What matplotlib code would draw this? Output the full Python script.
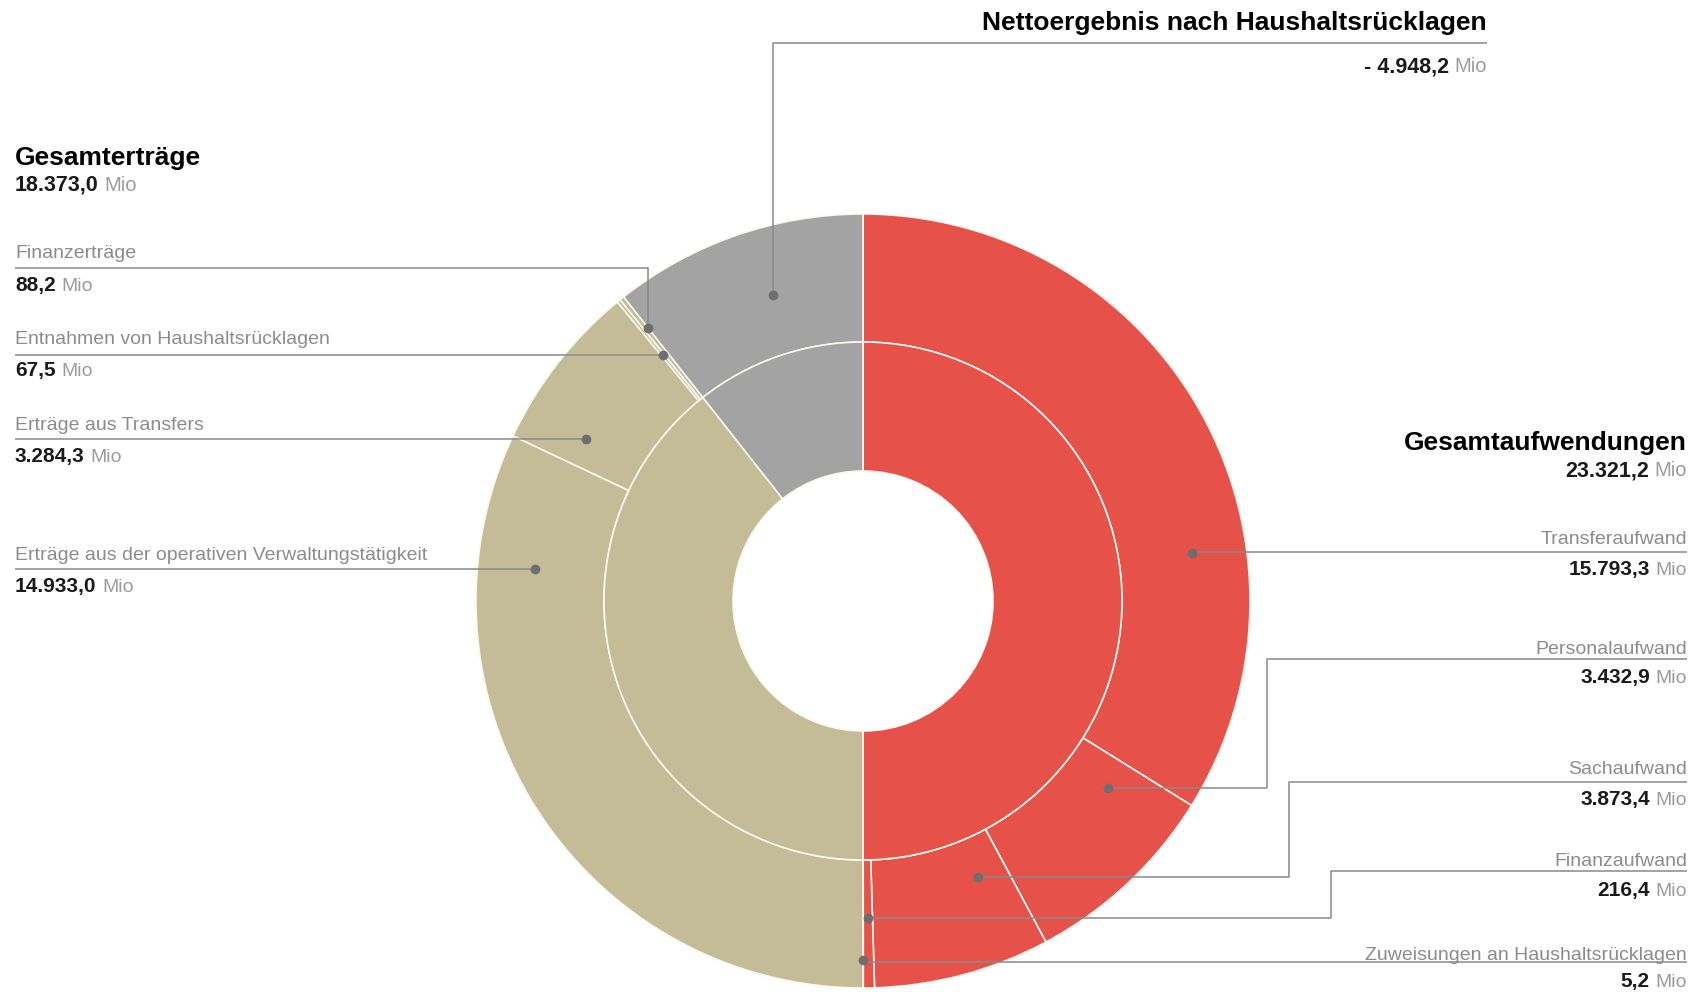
import matplotlib.pyplot as plt
import numpy as np

plt.rcParams['font.family'] = ['Liberation Sans', 'DejaVu Sans']

W, H = 1698, 992

# Aufwendungen (rechts)
aufw_names = ["Transferaufwand", "Personalaufwand", "Sachaufwand",
              "Finanzaufwand", "Zuweisungen an Haushaltsrücklagen"]
aufw_values = [15793.3, 3432.9, 3873.4, 216.4, 5.2]
aufw_total = 23321.2
aufw_ring_order = [0, 2, 1, 3, 4]   # order of the wedges as drawn in the original

# Erträge (links)
ertr_names = ["Erträge aus der operativen Verwaltungstätigkeit", "Erträge aus Transfers",
              "Entnahmen von Haushaltsrücklagen", "Finanzerträge"]
ertr_values = [14933.0, 3284.3, 67.5, 88.2]
ertr_total = 18373.0

netto_name = "Nettoergebnis nach Haushaltsrücklagen"
netto_value = -4948.2

RED, BEIGE, GREY = "#E6514A", "#C4BC97", "#A3A3A3"
LINE, DOT = "#8A8A8A", "#6E6E6E"
NAME_C, MIO_C = "#8C8C8C", "#9C9C9C"

cx, cy = 863, 601          # pixel position of the centre
r_out, r_mid, r_in = 387, 259, 130


def Y(yp):
    return H - yp


def fmt(v):
    s = f"{abs(v):,.1f}".replace(",", "X").replace(".", ",").replace("X", ".")
    return ("- " if v < 0 else "") + s


fig = plt.figure(figsize=(W / 100, H / 100), dpi=100)
ax = fig.add_axes([0, 0, 1, 1])

inner = [aufw_total, ertr_total, abs(netto_value)]
outer = [aufw_values[i] for i in aufw_ring_order] + ertr_values + [abs(netto_value)]
outer_colors = [RED] * 5 + [BEIGE] * 4 + [GREY]

wp = dict(edgecolor="#FBF8F0", linewidth=1.2)
ax.pie(outer, radius=r_out, center=(cx, Y(cy)), startangle=90, counterclock=False,
       colors=outer_colors, wedgeprops=dict(width=r_out - r_mid, **wp))
ax.pie(inner, radius=r_mid, center=(cx, Y(cy)), startangle=90, counterclock=False,
       colors=[RED, BEIGE, GREY], wedgeprops=dict(width=r_mid - r_in, **wp))

ax.set_xlim(0, W)
ax.set_ylim(0, H)
ax.set_aspect("equal")
ax.axis("off")

# anchor dots inside the outer ring
cum = np.cumsum([0] + outer) / sum(outer) * 360
dot_frac = [0.67, 0.18, 0.21, 0.47, 0.5, 0.829, 0.198, 0.5, 0.9, 0.57]
dot_r = [333, 308, 299, 317, 359, 330, 321, 317, 348, 319]


def dot_xy(k):
    a = np.radians(cum[k] + dot_frac[k] * (cum[k + 1] - cum[k]))
    return cx + dot_r[k] * np.sin(a), cy - dot_r[k] * np.cos(a)


def leader(pts, dot):
    xs = [p[0] for p in pts]
    ys = [Y(p[1]) for p in pts]
    ax.plot(xs, ys, color=LINE, lw=1.1, zorder=5, solid_capstyle="butt")
    ax.plot(dot[0], Y(dot[1]), "o", color=DOT, ms=6, zorder=6)


def value(x, yc, v, ha, size=15, mio_size=14):
    yb = Y(yc + 7)
    if ha == "left":
        t = ax.text(x, yb, fmt(v), ha="left", va="baseline", fontsize=size,
                    fontweight="bold", color="#1A1A1A")
        ax.annotate("Mio", xy=(1, yb), xycoords=(t, "data"), xytext=(4, 0),
                    textcoords="offset points", ha="left", va="baseline",
                    fontsize=mio_size, color=MIO_C)
    else:
        m = ax.text(x, yb, "Mio", ha="right", va="baseline", fontsize=mio_size, color=MIO_C)
        ax.annotate(fmt(v), xy=(0, yb), xycoords=(m, "data"), xytext=(-4, 0),
                    textcoords="offset points", ha="right", va="baseline",
                    fontsize=size, fontweight="bold", color="#1A1A1A")


# headings
ax.text(15, Y(158), "Gesamterträge", ha="left", va="center", fontsize=19, fontweight="bold")
value(15, 184, ertr_total, "left", 15.5, 14.5)
ax.text(1687, Y(443), "Gesamtaufwendungen", ha="right", va="center", fontsize=19, fontweight="bold")
value(1687, 469, aufw_total, "right", 15.5, 14.5)
ax.text(1487, Y(23), netto_name, ha="right", va="center", fontsize=19, fontweight="bold")
value(1487, 65, netto_value, "right", 15.5, 14.5)
dx, dy = dot_xy(9)
leader([(1487, 43), (dx, 43), (dx, dy)], (dx, dy))

# left labels, top to bottom
left_order = [3, 2, 1, 0]
left_name_y = [254, 340, 425, 555]
left_line_y = [268, 355, 439, 569]
left_val_y = [284, 369, 455, 585]
for j, i in enumerate(left_order):
    ax.text(15, Y(left_name_y[j]), ertr_names[i], ha="left", va="center",
            fontsize=14, color=NAME_C)
    value(15, left_val_y[j], ertr_values[i], "left")
    dx, dy = dot_xy(5 + i)
    leader([(15, left_line_y[j]), (dx, left_line_y[j]), (dx, dy)], (dx, dy))

# right labels, top to bottom
right_name_y = [539, 649, 770, 862, 956]
right_line_y = [552, 659, 782, 871, 962]
right_val_y = [568, 676, 798, 889, 980]
right_elbow = [None, 1267, 1289, 1331, None]
for i in range(5):
    ax.text(1687, Y(right_name_y[i]), aufw_names[i], ha="right", va="center",
            fontsize=14, color=NAME_C)
    value(1687, right_val_y[i], aufw_values[i], "right")
    dx, dy = dot_xy(i)
    ex = right_elbow[i] if right_elbow[i] is not None else dx
    leader([(1687, right_line_y[i]), (ex, right_line_y[i]), (ex, dy), (dx, dy)], (dx, dy))

fig.savefig("out.png", dpi=100)
